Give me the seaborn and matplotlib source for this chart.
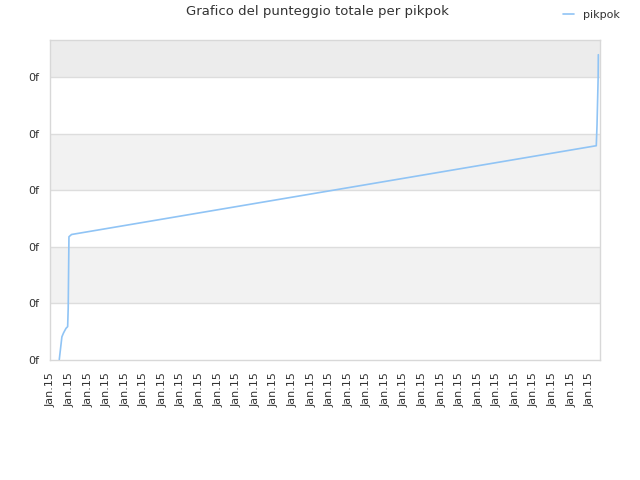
import numpy as np
import pandas as pd
import matplotlib
matplotlib.use('Agg')
import matplotlib.pyplot as plt
import seaborn as sns

# cumulative score over time (x in tick units, y in grid units)
days = [0.45, 0.52, 0.59, 0.68, 0.81, 0.90, 0.93, 0.97, 1.11, 29.35, 29.39, 29.45, 29.46]
score = [0.01, 0.21, 0.41, 0.48, 0.56, 0.59, 0.92, 2.18, 2.22, 3.79, 4.16, 4.99, 5.40]
tick_labels = ['Jan.15'] * 30
ytick_labels = ['0f'] * 6
player = 'pikpok'

df = pd.DataFrame({'day': days, 'score': score, 'player': player})

sns.set_theme(style='white')
plt.rcParams['font.family'] = ['DejaVu Sans']

fig = plt.figure(figsize=(6.4, 4.8), dpi=100)
ax = fig.add_axes([50 / 640, 120 / 480, 550 / 640, 320 / 480])

ymax = 5.66
# alternating bands
ax.axhspan(1, 2, color='#f2f2f2', zorder=0, lw=0)
ax.axhspan(3, 4, color='#f2f2f2', zorder=0, lw=0)
ax.axhspan(5, ymax, color='#ececec', zorder=0, lw=0)
for yv in range(1, 6):
    ax.axhline(yv, color='#dddddd', lw=1, zorder=1)

sns.lineplot(data=df, x='day', y='score', hue='player', palette=['#90c4f5'],
             estimator=None, sort=False, lw=1.2, ax=ax, zorder=3)

ax.set_xlim(-0.05, 29.55)
ax.set_ylim(0, ymax)
ax.set_xticks(range(len(tick_labels)))
ax.set_xticklabels(tick_labels, rotation=90, fontsize=8, color='#333333')
ax.set_yticks(range(len(ytick_labels)))
ax.set_yticklabels(ytick_labels, fontsize=8, color='#333333')
ax.tick_params(axis='x', length=0, pad=9)
ax.tick_params(axis='y', length=0, pad=8)
ax.set_xlabel('')
ax.set_ylabel('')
for sp in ax.spines.values():
    sp.set_color('#d8d8d8')
    sp.set_linewidth(1)

ax.legend(loc='upper right', bbox_to_anchor=(630 / 640, 480 / 480),
          bbox_transform=fig.transFigure, frameon=False, fontsize=8,
          handlelength=1.0, handletextpad=0.8, labelcolor='#333333')

fig.suptitle('Grafico del punteggio totale per pikpok', x=317 / 640, y=1 - 12 / 480,
             va='center', fontsize=9.5, color='#333333')

fig.savefig('out.png', dpi=100)
